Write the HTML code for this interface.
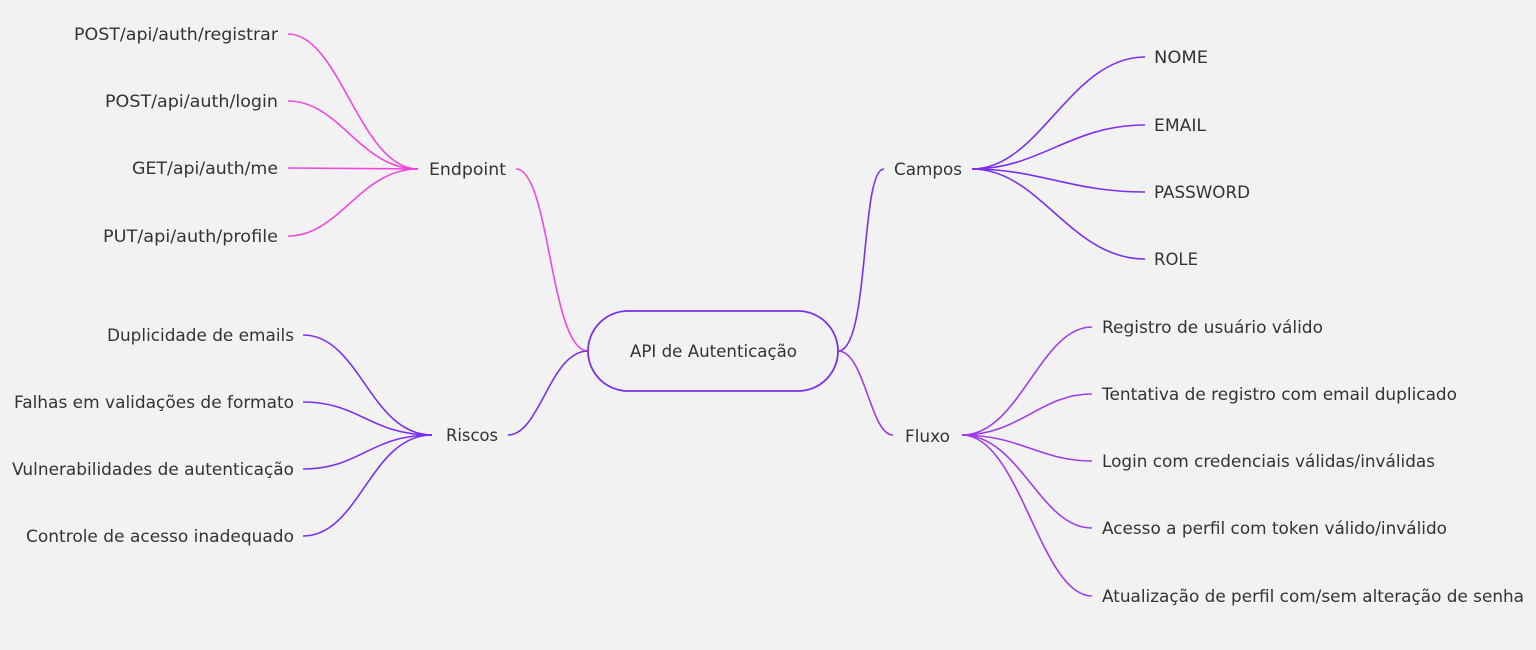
<!DOCTYPE html>
<html><head><meta charset="utf-8"><style>
html,body{margin:0;padding:0;background:#f2f2f2;}
svg{display:block}
text{font-family:"DejaVu Sans","Liberation Sans",sans-serif;font-size:17px;fill:#333;}
</style></head><body>
<svg width="1536" height="650" viewBox="0 0 1536 650">
<rect width="1536" height="650" fill="#f2f2f2"/>
<g fill="none" stroke-width="1.6">
<g stroke="#f048de">
<path d="M516,169 C550,169 550,351 588,351"/>
<path d="M288,34 C340,34 360,169 418,169"/>
<path d="M288,101 C340,101 360,169 418,169"/>
<path d="M288,168 L418,169"/>
<path d="M288,236 C340,236 360,169 418,169"/>
</g>
<g stroke="#7b2ff0">
<path d="M588,351 C550,351 540,435 508,435"/>
<path d="M303,335 C360,335 370,435 432,435"/>
<path d="M303,402 C360,402 370,435 432,435"/>
<path d="M303,469 C360,469 370,435 432,435"/>
<path d="M303,536 C360,536 370,435 432,435"/>
</g>
<g stroke="#7b2ff0">
<path d="M838,351 C870,351 860,169 884,169"/>
<path d="M972,169 C1040,169 1070,57 1145,57"/>
<path d="M972,169 C1040,169 1070,125 1145,125"/>
<path d="M972,169 C1040,169 1070,192 1145,192"/>
<path d="M972,169 C1040,169 1070,259 1145,259"/>
</g>
<g stroke="#a03ce8">
<path d="M838,351 C865,351 870,435 893,435"/>
<path d="M962,435 C1020,435 1040,327 1092,327"/>
<path d="M962,435 C1020,435 1040,394 1092,394"/>
<path d="M962,435 C1020,435 1040,461 1092,461"/>
<path d="M962,435 C1020,435 1040,528 1092,528"/>
<path d="M962,435 C1020,435 1040,596 1092,596"/>
</g>
<rect x="588" y="311" width="250" height="80" rx="40" ry="40" stroke="#7b2ff0" stroke-width="1.8" fill="#f2f2f2"/>
</g>
<g>
<text x="630" y="357" textLength="167" lengthAdjust="spacingAndGlyphs">API de Autenticação</text>
<text x="429" y="175" textLength="77" lengthAdjust="spacingAndGlyphs">Endpoint</text>
<text x="446" y="441" textLength="52" lengthAdjust="spacingAndGlyphs">Riscos</text>
<text x="894" y="175" textLength="68" lengthAdjust="spacingAndGlyphs">Campos</text>
<text x="905" y="442" textLength="45" lengthAdjust="spacingAndGlyphs">Fluxo</text>
<text x="74" y="40" textLength="204" lengthAdjust="spacingAndGlyphs">POST/api/auth/registrar</text>
<text x="105" y="107" textLength="173" lengthAdjust="spacingAndGlyphs">POST/api/auth/login</text>
<text x="132" y="174" textLength="146" lengthAdjust="spacingAndGlyphs">GET/api/auth/me</text>
<text x="103" y="242" textLength="175" lengthAdjust="spacingAndGlyphs">PUT/api/auth/profile</text>
<text x="107" y="341" textLength="187" lengthAdjust="spacingAndGlyphs">Duplicidade de emails</text>
<text x="14" y="408" textLength="280" lengthAdjust="spacingAndGlyphs">Falhas em validações de formato</text>
<text x="12" y="475" textLength="282" lengthAdjust="spacingAndGlyphs">Vulnerabilidades de autenticação</text>
<text x="26" y="542" textLength="268" lengthAdjust="spacingAndGlyphs">Controle de acesso inadequado</text>
<text x="1154" y="63" textLength="54" lengthAdjust="spacingAndGlyphs">NOME</text>
<text x="1154" y="131" textLength="52" lengthAdjust="spacingAndGlyphs">EMAIL</text>
<text x="1154" y="198" textLength="96" lengthAdjust="spacingAndGlyphs">PASSWORD</text>
<text x="1154" y="265" textLength="44" lengthAdjust="spacingAndGlyphs">ROLE</text>
<text x="1102" y="333" textLength="221" lengthAdjust="spacingAndGlyphs">Registro de usuário válido</text>
<text x="1102" y="400" textLength="355" lengthAdjust="spacingAndGlyphs">Tentativa de registro com email duplicado</text>
<text x="1102" y="467" textLength="333" lengthAdjust="spacingAndGlyphs">Login com credenciais válidas/inválidas</text>
<text x="1102" y="534" textLength="345" lengthAdjust="spacingAndGlyphs">Acesso a perfil com token válido/inválido</text>
<text x="1102" y="602" textLength="422" lengthAdjust="spacingAndGlyphs">Atualização de perfil com/sem alteração de senha</text>
</g>
</svg>
</body></html>
